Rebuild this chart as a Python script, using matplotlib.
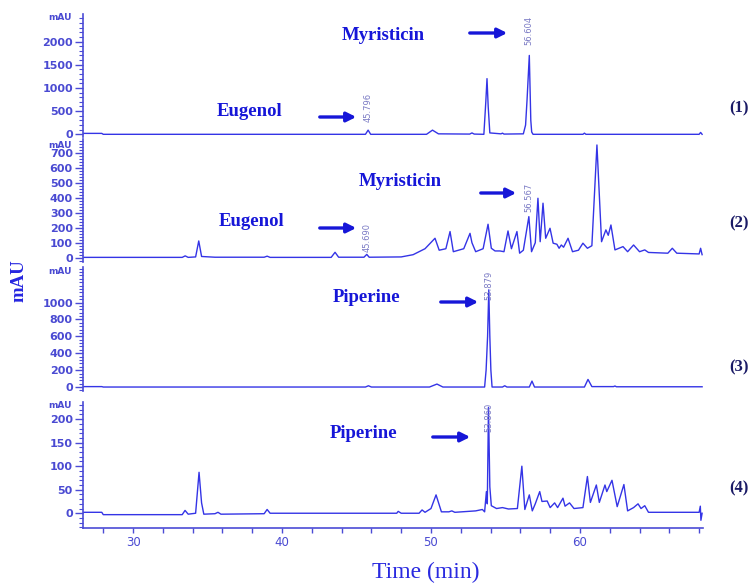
import matplotlib
matplotlib.use("Agg")
import matplotlib.pyplot as plt
from matplotlib.ticker import MultipleLocator

# ---------------- data ----------------
t1 = [26.65, 27.9, 28.0, 45.6, 45.78, 45.95, 49.7, 50.1, 50.5, 52.6, 52.75, 52.9,
      53.55, 53.68, 53.76, 53.84, 53.95, 54.7, 54.8, 54.9, 56.2, 56.35, 56.45,
      56.6, 56.7, 56.76, 56.85, 60.2, 60.3, 60.4, 68.0, 68.1, 68.2]
a1 = [20, 20, 0, 0, 90, 0, 0, 90, 10, 5, 30, 5,
      0, 700, 1200, 600, 30, 10, 25, 5, 10, 200, 750,
      1700, 300, 50, 0, 0, 25, 0, 0, 40, 0]

t2 = [26.65, 33.3, 33.5, 33.7, 34.2, 34.41, 34.6, 35.5, 38.8, 39.0, 39.2, 43.3,
      43.56, 43.8, 45.5, 45.69, 45.85, 48.0, 48.8, 49.6, 50.27, 50.55, 51.0,
      51.28, 51.5, 52.2, 52.62, 52.75, 53.0, 53.5, 53.83, 54.05, 54.3, 54.63,
      54.9, 55.17, 55.4, 55.77, 55.95, 56.2, 56.57, 56.75, 57.0, 57.18, 57.33,
      57.52, 57.7, 57.99, 58.2, 58.45, 58.6, 58.75, 58.9, 59.2, 59.5, 59.9,
      60.2, 60.5, 60.8, 61.14, 61.45, 61.74, 61.9, 62.08, 62.35, 62.89, 63.2,
      63.6, 64.0, 64.35, 64.6, 65.9, 66.2, 66.5, 68.0, 68.1, 68.2]
a2 = [2, 2, 12, 2, 5, 112, 8, 3, 3, 10, 2, 2,
      36, 3, 3, 22, 3, 5, 20, 60, 130, 50, 60,
      175, 40, 60, 163, 100, 40, 60, 224, 63, 45, 45,
      40, 179, 60, 175, 30, 50, 275, 40, 100, 398, 107,
      365, 130, 197, 97, 90, 63, 85, 70, 130, 40, 50,
      97, 63, 80, 755, 107, 186, 150, 219, 52, 74, 40,
      85, 40, 52, 35, 30, 63, 30, 25, 63, 20]

t3 = [26.65, 27.9, 28.0, 45.6, 45.8, 46.0, 49.9, 50.4, 50.8, 53.6, 53.7, 53.8,
      53.88, 53.95, 54.02, 54.1, 54.8, 54.95, 55.1, 56.6, 56.78, 56.95, 60.3,
      60.54, 60.8, 62.25, 62.35, 62.45, 68.2]
a3 = [5, 5, 0, 0, 15, 0, 0, 35, 0, 0, 200, 600,
      1150, 600, 200, 0, 0, 15, 0, 0, 70, 0, 0,
      90, 5, 5, 12, 3, 3]

t4 = [26.65, 27.9, 28.0, 33.3, 33.49, 33.7, 34.2, 34.43, 34.6, 34.75, 35.5,
      35.7, 35.9, 38.8, 39.0, 39.2, 47.7, 47.8, 48.0, 49.2, 49.4, 49.6, 50.0,
      50.34, 50.7, 51.2, 51.4, 51.6, 53.0, 53.45, 53.6, 53.72, 53.78, 53.86,
      53.95, 54.05, 54.4, 54.8, 55.2, 55.8, 56.1, 56.3, 56.6, 56.8, 57.0, 57.3,
      57.45, 57.8, 58.0, 58.3, 58.5, 58.86, 59.0, 59.3, 59.6, 60.2, 60.5, 60.7,
      61.1, 61.3, 61.68, 61.8, 62.15, 62.5, 62.95, 63.2, 63.6, 63.9, 64.1,
      64.35, 64.6, 68.0, 68.08, 68.12, 68.2]
a4 = [2, 2, -3, -3, 6, -2, 0, 87, 22, -2, -1,
      2, -2, -1, 8, 0, 0, 4, 0, 0, 7, 2, 10,
      39, 3, 3, 5, 2, 5, 8, 3, 46, 20, 225,
      56, 16, 10, 12, 9, 10, 100, 8, 39, 5, 20, 46,
      25, 26, 12, 22, 12, 32, 15, 22, 10, 12, 78, 23,
      60, 23, 60, 46, 70, 14, 61, 5, 12, 20, 10,
      16, 2, 2, 15, -15, 0]

times = [t1, t2, t3, t4]
signals = [a1, a2, a3, a4]
panel_names = ["(1)", "(2)", "(3)", "(4)"]

# retention-time labels per panel: (text, time, label-bottom in mAU)
rt_labels = [
    [("45.796", 45.796, 265), ("56.604", 56.604, 1925)],
    [("45.690", 45.690, 38), ("56.567", 56.567, 306)],
    [("53.879", 53.879, 1030)],
    [("53.860", 53.860, 173)],
]

# compound annotations per panel: (name, text centre px, arrow start px, arrow end px)
compounds = [
    [("Myristicin", (383, 35), (467, 33), (510, 33)),
     ("Eugenol", (250, 112), (317, 117), (359, 117))],
    [("Myristicin", (400, 182), (478, 193), (519, 193)),
     ("Eugenol", (252, 222), (317, 228), (359, 228))],
    [("Piperine", (367, 297), (438, 302), (481, 302))],
    [("Piperine", (364, 433), (430, 437), (473, 437))],
]

# ---------------- layout ----------------
W, H = 753, 583
panel_rows = [(14, 137), (139, 262), (267, 391), (401.7, 528.3)]
ylims = [(-58, 2593), (-29, 795), (-47, 1420), (-32, 237)]
major_steps = [500, 100, 200, 50]
minor_steps = [100, 20, 40, 10]
major_max = [2000, 700, 1000, 200]
panel_label_y = [108, 223, 367, 488]
mau_label_y = [17, 145.5, 272, 406]

trace_col = "#3434e6"
axis_col = "#4b4bd6"
tick_col = "#4a4ad2"
note_col = "#1616d8"
rt_col = "#7a7ac4"

fig = plt.figure(figsize=(W / 100, H / 100), dpi=100)
x_left, x_right = 83, 703
xlim = (26.64, 68.26)


def px2fig(x, y):
    return (x / W, 1 - y / H)


for i in range(4):
    top, bot = panel_rows[i]
    ax = fig.add_axes([x_left / W, 1 - bot / H, (x_right - x_left) / W, (bot - top) / H])
    ax.patch.set_alpha(0)
    ax.plot(times[i], signals[i], color=trace_col, lw=1.0)
    ax.set_xlim(*xlim)
    ax.set_ylim(*ylims[i])
    for s in ("top", "right"):
        ax.spines[s].set_visible(False)
    ax.spines["left"].set_color(axis_col)
    ax.spines["left"].set_linewidth(1.2)
    ax.yaxis.set_minor_locator(MultipleLocator(minor_steps[i]))
    ax.set_yticks([v for v in range(0, major_max[i] + 1, major_steps[i])])
    ax.tick_params(axis="y", which="major", length=5.8, width=1.0, color=axis_col,
                   labelcolor=tick_col, labelsize=8, pad=1.5)
    ax.tick_params(axis="y", which="minor", length=2.9, width=0.8, color=axis_col)
    for lab in ax.get_yticklabels():
        lab.set_fontweight("bold")
    fig.text(*px2fig(72, mau_label_y[i]), "mAU", ha="right", va="center",
             fontsize=6.5, color=tick_col, fontweight="bold")
    if i < 3:
        ax.spines["bottom"].set_visible(False)
        ax.tick_params(axis="x", which="both", bottom=False, labelbottom=False)
    else:
        ax.spines["bottom"].set_color(axis_col)
        ax.spines["bottom"].set_linewidth(1.2)
        ax.xaxis.set_minor_locator(MultipleLocator(2))
        ax.set_xticks([30, 40, 50, 60])
        ax.tick_params(axis="x", which="both", length=3.5, width=1.0, color=axis_col,
                       labelcolor=tick_col, labelsize=8.5, pad=2)
    # retention time labels
    for txt, t, yb in rt_labels[i]:
        ax.text(t, yb, txt, rotation=90, ha="center", va="bottom", fontsize=6,
                color=rt_col)
    # compound names and arrows
    for name, tc, a0, a1_ in compounds[i]:
        fig.text(*px2fig(*tc), name, ha="center", va="center", fontsize=13.5,
                 fontweight="bold", family="Liberation Serif", color=note_col)
        fig.add_artist(matplotlib.patches.FancyArrowPatch(
            px2fig(*a0), px2fig(*a1_), transform=fig.transFigure,
            arrowstyle="-|>", mutation_scale=14, lw=2.4, color=note_col))
    fig.text(*px2fig(739, panel_label_y[i]), panel_names[i], ha="center", va="center",
             fontsize=12, fontweight="bold", family="Liberation Serif", color="#1a1a66")

fig.text(*px2fig(19, 281), "mAU", rotation=90, ha="center", va="center", fontsize=13.5,
         fontweight="bold", family="Liberation Serif", color="#2626e0")
fig.text(*px2fig(426, 572), "Time (min)", ha="center", va="center", fontsize=17,
         family="Liberation Serif", color="#2a2ae0")

fig.savefig("out.png", dpi=100)
